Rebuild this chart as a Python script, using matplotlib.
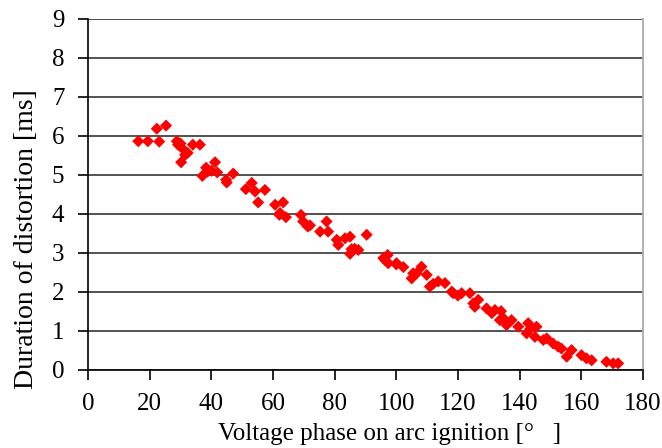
import numpy as np
import matplotlib.pyplot as plt

plt.rcParams['font.family'] = ['Liberation Serif', 'DejaVu Serif']

# phase of voltage at arc ignition [deg] and distortion duration [ms]
phase = [16.3, 19.4, 22.3, 25.3, 23.1, 28.8, 29.2, 30.4, 31.5, 30.2,
         32.3, 34.0, 36.3, 38.3, 41.2, 37.1, 38.8, 41.9, 44.8, 47.1,
         51.2, 53.1, 54.2, 57.4, 55.2, 60.7, 62.1, 63.3, 62.3, 64.2,
         69.1, 69.8, 71.3, 77.4, 75.3, 77.9, 80.7, 81.2, 83.4, 85.0,
         85.5, 87.7, 85.0, 90.4, 95.8, 97.2, 97.4, 100.1, 102.3, 105.0,
         106.6, 105.5, 108.2, 109.9, 110.9, 113.6, 115.8, 118.5, 121.2, 123.9,
         126.6, 125.5, 129.3, 132.0, 133.6, 135.8, 137.4, 139.6, 142.8, 145.5,
         142.3, 145.0, 147.7, 148.8, 150.9, 152.5, 153.6, 155.3, 156.9, 160.1,
         161.7, 163.4, 168.2, 170.4, 172.0, 30.0, 40.0, 45.0, 72.0, 86.5,
         96.5, 100.0, 112.0, 118.0, 120.0, 125.0, 131.0, 134.0, 135.0, 143.5]
duration = [5.86, 5.86, 6.18, 6.26, 5.85, 5.86, 5.77, 5.69, 5.51, 5.32,
            5.56, 5.77, 5.77, 5.18, 5.32, 4.97, 5.08, 5.06, 4.87, 5.03,
            4.63, 4.79, 4.57, 4.61, 4.29, 4.23, 3.97, 4.29, 4.02, 3.91,
            3.97, 3.80, 3.67, 3.80, 3.54, 3.54, 3.33, 3.20, 3.37, 3.41,
            3.09, 3.07, 2.97, 3.46, 2.86, 2.94, 2.73, 2.73, 2.63, 2.34,
            2.47, 2.47, 2.64, 2.43, 2.13, 2.26, 2.22, 1.96, 1.96, 1.96,
            1.79, 1.61, 1.57, 1.53, 1.27, 1.14, 1.27, 1.10, 1.19, 1.10,
            0.93, 0.84, 0.76, 0.80, 0.67, 0.59, 0.54, 0.33, 0.50, 0.37,
            0.29, 0.24, 0.20, 0.16, 0.16, 5.80, 5.10, 4.80, 3.70, 3.10,
            2.80, 2.70, 2.20, 2.00, 1.90, 1.70, 1.45, 1.50, 1.30, 1.05]

fig = plt.figure(figsize=(6.62, 4.48), dpi=100)
ax = fig.add_axes([0.133, 0.175, 0.838, 0.783])

ax.scatter(phase, duration, marker='D', s=38, color='#ff0000', edgecolors='none', zorder=3)

ax.set_xlim(0, 180)
ax.set_ylim(0, 9)
ax.set_xticks(np.arange(0, 181, 20))
ax.set_yticks(np.arange(0, 10, 1))
ax.yaxis.grid(True, color='#444444', linewidth=1.3)
ax.set_axisbelow(True)

ax.spines['top'].set_visible(False)
ax.spines['right'].set_color('#aaaaaa')
ax.spines['right'].set_linewidth(1.3)
ax.spines['left'].set_linewidth(1.2)
ax.spines['bottom'].set_linewidth(1.2)
ax.tick_params(direction='out', length=7, width=1.2, labelsize=18)
ax.tick_params(axis='x', pad=9.5)
ax.tick_params(axis='y', pad=10)

ax.set_xlabel("Voltage phase on arc ignition [°   ]", fontsize=18)
ax.set_ylabel("Duration of distortion [ms]", fontsize=20)
ax.xaxis.set_label_coords(0.543, -0.152)
ax.yaxis.set_label_coords(-0.089, 0.372)

plt.savefig("out.png", dpi=100)
